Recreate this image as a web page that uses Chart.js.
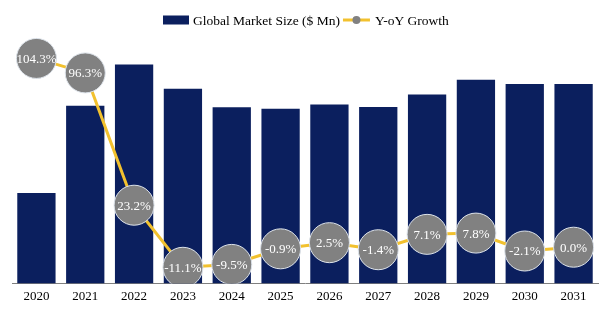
<!DOCTYPE html>
<html>
<head>
<meta charset="utf-8">
<script src="https://cdn.jsdelivr.net/npm/chart.js@4.4.1/dist/chart.umd.min.js"></script>
<style>
  html, body { margin: 0; padding: 0; background: #ffffff; }
  #wrap { width: 612px; height: 322px; }
</style>
</head>
<body>
<div id="wrap"><canvas id="c" width="612" height="322"></canvas></div>
<script>
const categories = ['2020','2021','2022','2023','2024','2025','2026','2027','2028','2029','2030','2031'];
const marketSize = [90, 176.7, 217.7, 193.5, 175.1, 173.6, 177.9, 175.4, 187.9, 202.5, 198.3, 198.3];
const yoyGrowth = [104.3, 96.3, 23.2, -11.1, -9.5, -0.9, 2.5, -1.4, 7.1, 7.8, -2.1, 0.0];
const seriesNames = ['Global Market Size ($ Mn)', 'Y-oY Growth'];

const NAVY = '#0b1f5e';
const YELLOW = '#f2c12e';
const GREY = '#818181';
const SERIF = '"Liberation Serif", "Times New Roman", serif';

const labelPlugin = {
  id: 'pointLabels',
  afterDatasetsDraw(chart) {
    const ctx = chart.ctx;
    const meta = chart.getDatasetMeta(0);
    ctx.save();
    ctx.font = '13px ' + SERIF;
    ctx.fillStyle = '#ffffff';
    ctx.textAlign = 'center';
    ctx.textBaseline = 'middle';
    meta.data.forEach((pt, i) => {
      ctx.fillText(yoyGrowth[i].toFixed(1) + '%', pt.x, pt.y + 1);
    });
    ctx.restore();
  }
};

const legendPlugin = {
  id: 'customLegend',
  afterDraw(chart) {
    const ctx = chart.ctx;
    ctx.save();
    ctx.font = '13.5px ' + SERIF;
    ctx.textBaseline = 'middle';
    const cy = 20;
    let x = 163;
    ctx.fillStyle = NAVY;
    ctx.fillRect(x, cy - 4.5, 26, 9);
    x += 30;
    ctx.fillStyle = '#000000';
    ctx.fillText(seriesNames[0], x, cy + 1);
    x += ctx.measureText(seriesNames[0]).width + 3;
    ctx.strokeStyle = YELLOW;
    ctx.lineWidth = 3;
    ctx.beginPath();
    ctx.moveTo(x, cy);
    ctx.lineTo(x + 27, cy);
    ctx.stroke();
    ctx.fillStyle = GREY;
    ctx.beginPath();
    ctx.arc(x + 13.5, cy, 4, 0, Math.PI * 2);
    ctx.fill();
    x += 32;
    ctx.fillStyle = '#000000';
    ctx.fillText(seriesNames[1], x, cy + 1);
    ctx.restore();
  }
};

new Chart(document.getElementById('c'), {
  data: {
    labels: categories,
    datasets: [
      {
        type: 'line',
        label: seriesNames[1],
        data: yoyGrowth,
        yAxisID: 'y1',
        order: 0,
        borderColor: YELLOW,
        borderWidth: 3,
        tension: 0,
        pointRadius: 20,
        pointHoverRadius: 20,
        pointBackgroundColor: GREY,
        pointBorderColor: '#dde3ea',
        pointBorderWidth: 1
      },
      {
        type: 'bar',
        label: seriesNames[0],
        data: marketSize,
        yAxisID: 'y',
        order: 1,
        backgroundColor: NAVY,
        categoryPercentage: 0.8,
        barPercentage: 0.98
      }
    ]
  },
  options: {
    responsive: false,
    animation: false,
    layout: { autoPadding: false, padding: { top: 30, left: 12, right: 14, bottom: 13 } },
    plugins: { legend: { display: false }, tooltip: { enabled: false } },
    scales: {
      x: {
        grid: { display: false, drawTicks: false },
        border: { display: true, color: '#7f7f7f', width: 1 },
        ticks: { color: '#000000', font: { family: SERIF, size: 13 }, padding: 5 }
      },
      y: { display: false, min: 0, max: 252 },
      y1: { display: false, min: -20, max: 120 }
    }
  },
  plugins: [labelPlugin, legendPlugin]
});
</script>
</body>
</html>
